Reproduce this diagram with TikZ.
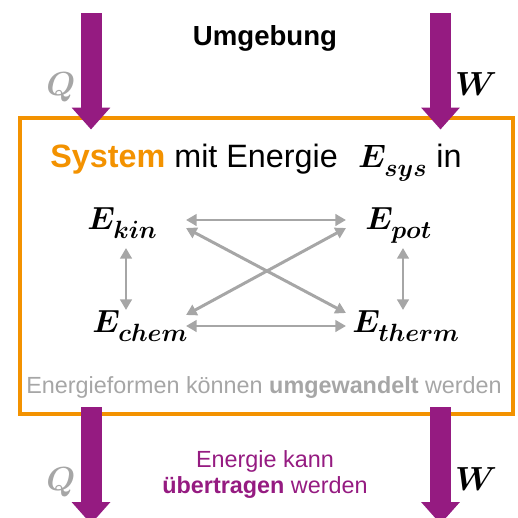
\RequirePackage{fix-cm}
\documentclass[tikz,border=0pt]{standalone}
\usepackage{amsmath,amssymb}
\usepackage{fontspec}
\setmainfont{Liberation Sans}
\usepackage{xcolor}
\usepackage{tikz}
\usetikzlibrary{arrows.meta}
\usetikzlibrary{backgrounds}
\pgfdeclarelayer{edgelayer}
\pgfdeclarelayer{nodelayer}
\pgfsetlayers{background,edgelayer,nodelayer,main}
\DeclareMathSizes{18.2}{18.2}{14.2}{10}
\DeclareMathSizes{18.4}{18.4}{14.2}{10}
\newcommand{\Eform}[1]{E_{\raisebox{-2.5pt}{$\scriptstyle #1$}}}
\definecolor{syspurple}{HTML}{951B81}
\definecolor{sysorange}{HTML}{F39200}
\definecolor{convgray}{HTML}{A6A6A6}
\tikzstyle{none}=[inner sep=0mm]
\tikzstyle{energy}=[inner sep=0pt,anchor=base west,font=\boldmath\fontsize{18.2}{21}\selectfont]
\tikzstyle{flowlabel}=[inner sep=0pt,anchor=base,font=\boldmath\fontsize{19}{22}\selectfont]
\tikzstyle{caption}=[inner sep=0pt,anchor=base,font=\fontsize{13.3}{15}\selectfont]
\tikzstyle{sysbox}=[draw=sysorange,line width=0.08cm]
\tikzstyle{transfer}=[draw=syspurple,line width=0.42cm,-{Triangle[length=0.44cm,width=0.75cm]}]
\tikzstyle{convert}=[draw=convgray,line width=1.7pt,{Triangle[length=6pt,width=6.5pt]}-{Triangle[length=6pt,width=6.5pt]}]

\begin{document}
\begin{tikzpicture}
	\useasboundingbox (0, 0) rectangle (10.36, -10.36);
	\begin{pgfonlayer}{nodelayer}
		% Umgebung und Energiefluesse
		\node [style=caption, font=\bfseries\fontsize{15.7}{18}\selectfont] (0) at (5.30, -0.90) {Umgebung};
		\node [style=flowlabel, text=convgray] (1) at (1.22, -1.90) {$Q$};
		\node [style=flowlabel] (2) at (9.52, -1.90) {$W$};
		\node [style=flowlabel, text=convgray] (3) at (1.22, -9.80) {$Q$};
		\node [style=flowlabel] (4) at (9.52, -9.80) {$W$};
		\node [style=caption, text=syspurple] (5) at (5.30, -9.34) {Energie kann};
		\node [style=caption, text=syspurple] (6) at (5.30, -9.86) {\textbf{übertragen} werden};
		% System
		\node [style=energy, font=\fontsize{18.4}{21}\selectfont] (7) at (1.00, -3.34) {\textcolor{sysorange}{\bfseries System} mit Energie\hspace{0.35em} {\boldmath$\Eform{sys}$} in};
		\node [style=energy] (8) at (1.74, -4.58) {$\Eform{kin}$};
		\node [style=energy] (9) at (7.30, -4.58) {$\Eform{pot}$};
		\node [style=energy] (10) at (1.84, -6.64) {$\Eform{chem}$};
		\node [style=energy] (11) at (7.04, -6.64) {$\Eform{therm}$};
		\node [style=caption, text=convgray] (12) at (5.28, -7.86) {Energieformen können \textbf{umgewandelt} werden};
		% Endpunkte
		\node [style=none] (20) at (0.39, -2.36) {};
		\node [style=none] (21) at (10.25, -8.28) {};
		\node [style=none] (22) at (1.82, -0.26) {};
		\node [style=none] (23) at (1.82, -2.59) {};
		\node [style=none] (24) at (8.81, -0.26) {};
		\node [style=none] (25) at (8.81, -2.59) {};
		\node [style=none] (26) at (1.82, -8.14) {};
		\node [style=none] (27) at (1.82, -10.48) {};
		\node [style=none] (28) at (8.81, -8.14) {};
		\node [style=none] (29) at (8.81, -10.48) {};
		\node [style=none] (30) at (3.72, -4.40) {};
		\node [style=none] (31) at (6.92, -4.40) {};
		\node [style=none] (32) at (3.72, -6.52) {};
		\node [style=none] (33) at (6.92, -6.52) {};
		\node [style=none] (34) at (2.52, -4.96) {};
		\node [style=none] (35) at (2.52, -6.20) {};
		\node [style=none] (36) at (8.06, -4.96) {};
		\node [style=none] (37) at (8.06, -6.20) {};
		\node [style=none] (38) at (3.72, -4.56) {};
		\node [style=none] (39) at (6.92, -6.26) {};
		\node [style=none] (40) at (3.72, -6.30) {};
		\node [style=none] (41) at (6.92, -4.56) {};
	\end{pgfonlayer}
	\begin{pgfonlayer}{edgelayer}
		\draw [style=sysbox] (20.center) rectangle (21.center);
		\draw [style=transfer] (22.center) to (23.center);
		\draw [style=transfer] (24.center) to (25.center);
		\draw [style=transfer] (26.center) to (27.center);
		\draw [style=transfer] (28.center) to (29.center);
		\draw [style=convert] (30.center) to (31.center);
		\draw [style=convert] (32.center) to (33.center);
		\draw [style=convert] (34.center) to (35.center);
		\draw [style=convert] (36.center) to (37.center);
		\draw [style=convert] (38.center) to (39.center);
		\draw [style=convert] (40.center) to (41.center);
	\end{pgfonlayer}
\end{tikzpicture}
\end{document}
